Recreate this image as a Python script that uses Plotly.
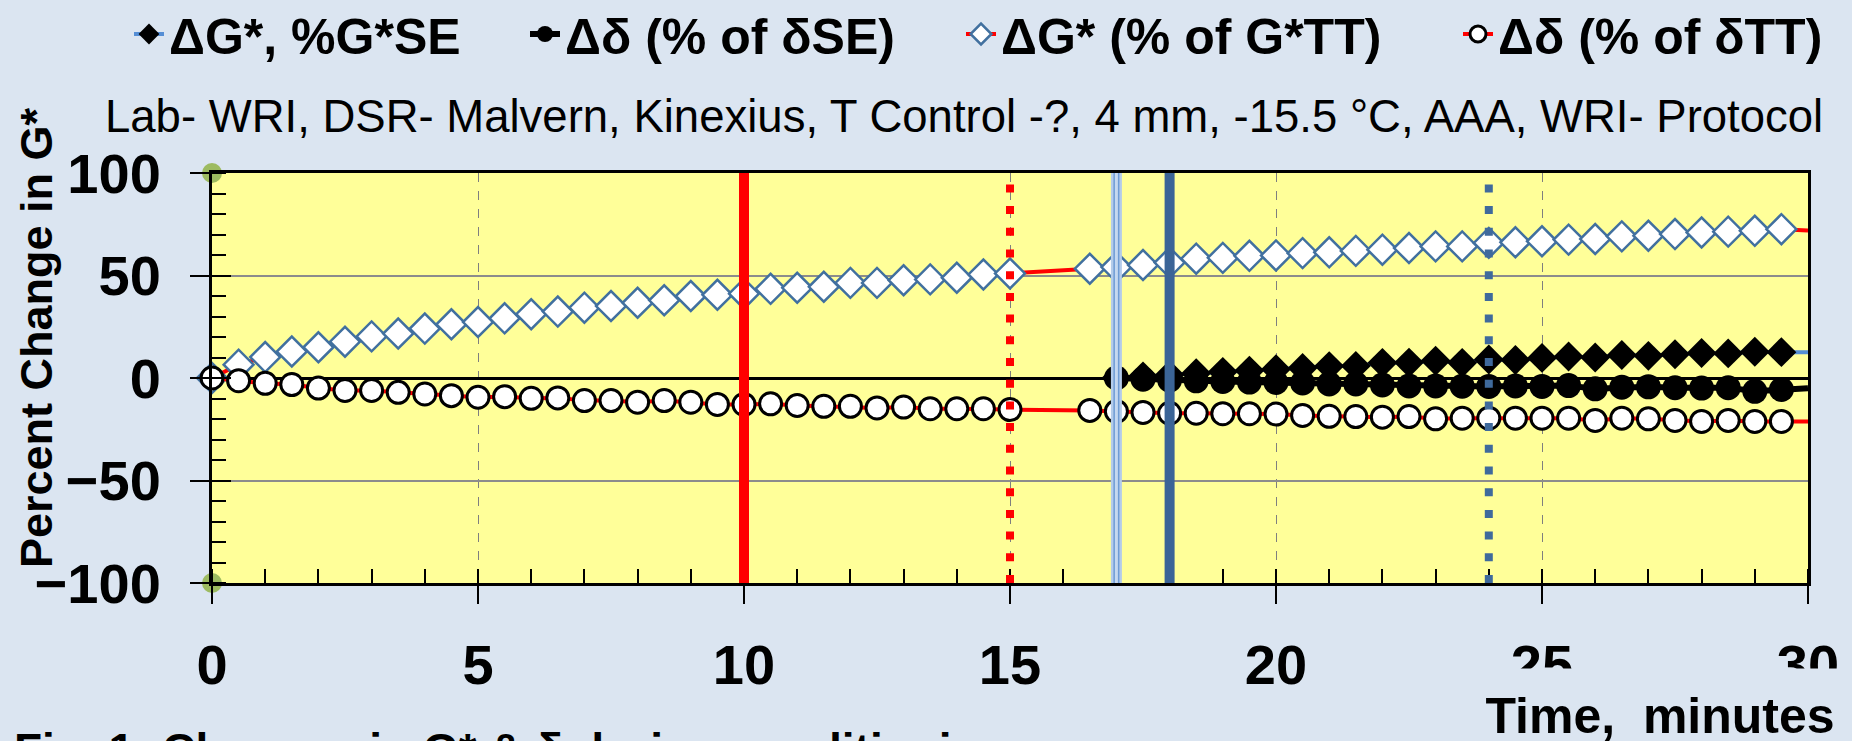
import plotly.graph_objects as go

# ---- data -------------------------------------------------------------
# time (minutes) for the test-temperature (TT) series
t_tt = [0, 0.5, 1, 1.5, 2, 2.5, 3, 3.5, 4, 4.5, 5, 5.5, 6, 6.5, 7, 7.5, 8, 8.5,
        9, 9.5, 10, 10.5, 11, 11.5, 12, 12.5, 13, 13.5, 14, 14.5, 15,
        16.5, 17, 17.5, 18, 18.5, 19, 19.5, 20, 20.5, 21, 21.5, 22, 22.5, 23,
        23.5, 24, 24.5, 25, 25.5, 26, 26.5, 27, 27.5, 28, 28.5, 29, 29.5, 30]
# change in G* as % of G* at test temperature
g_tt = [0, 6.5, 10.2, 12.9, 15.0, 17.7, 20.3, 21.7, 24.1, 26.2, 27.3, 29.1,
        31.1, 32.4, 34.3, 35.1, 36.7, 37.9, 40.0, 40.6, 41.1, 43.5, 44.0, 44.5,
        46.4, 46.4, 47.7, 48.1, 48.9, 50.5, 51.0,
        53.3, 54.1, 55.1, 56.3, 58.2, 58.6, 59.6, 59.8, 60.9, 61.3, 62.0, 62.6,
        63.4, 64.2, 64.2, 65.9, 66.2, 66.7, 67.5, 67.8, 69.1, 69.4, 70.2, 71.0,
        71.4, 71.8, 72.6, 72.0]
# change in phase angle as % of delta at test temperature
d_tt = [0, -1.3, -2.6, -3.2, -4.9, -6.1, -6.1, -7.0, -7.8, -8.6, -9.4, -9.1,
        -9.9, -9.7, -11.0, -11.0, -11.8, -11.0, -11.8, -12.9, -12.9, -12.6,
        -13.4, -13.8, -13.8, -14.6, -14.2, -15.0, -15.0, -15.0, -15.4,
        -15.8, -16.3, -16.8, -17.2, -17.2, -17.4, -17.4, -17.6, -18.3, -18.7,
        -18.8, -19.1, -18.8, -19.9, -19.6, -19.6, -19.6, -19.6, -19.6, -20.7,
        -19.6, -19.9, -20.7, -21.2, -20.7, -21.2, -21.2, -21.2]

# time (minutes) for the series referenced to the start of equilibrium (SE)
t_se = [17, 17.5, 18, 18.5, 19, 19.5, 20, 20.5, 21, 21.5, 22, 22.5, 23, 23.5,
        24, 24.5, 25, 25.5, 26, 26.5, 27, 27.5, 28, 28.5, 29, 29.5, 30]
g_se = [0, 0.8, 1.5, 2.3, 3.0, 3.6, 4.3, 4.9, 5.8, 5.9, 7.4, 7.5, 8.4, 7.4,
        9.0, 8.8, 9.8, 10.5, 10.0, 11.2, 10.8, 11.6, 12.2, 12.0, 12.8, 12.6, 12.5]
d_se = [0, -0.6, -1.0, -1.4, -1.7, -2.0, -2.2, -2.4, -2.9, -2.9, -3.4, -3.9,
        -3.9, -4.0, -4.1, -3.9, -4.1, -3.7, -5.3, -4.5, -4.3, -4.7, -4.9, -4.7,
        -6.5, -5.6, -5.0]

# event times (minutes) drawn as vertical markers
t_red_solid = 10
t_red_dotted = 15
t_lightblue_double = 17
t_blue_solid = 18
t_blue_dotted = 24

# axis-limit markers
limit_x = [0, 0]
limit_y = [100, -100]

names = ["ΔG*, %G*SE", "Δδ (% of δSE)", "ΔG* (% of G*TT)", "Δδ (% of δTT)"]
subtitle = "Lab- WRI, DSR- Malvern, Kinexius, T Control -?, 4 mm, -15.5 °C, AAA, WRI- Protocol"
y_title = "Percent Change in G*"
x_title = "Time,\u00a0 minutes"
caption = "Fig. 1: Changes in G* & δ during conditioning"

# ---- style ------------------------------------------------------------
FONT = "Liberation Sans"
PAPER = "#DBE5F1"
PLOT = "#FFFF99"
W, H = 1852, 741
L, R, T, B = 212, 44, 173, 158


def px_x(px):
    return (px - L) / (W - L - R)


def px_y(py):
    return (H - B - py) / (H - T - B)


def sizes(n, s):
    # last point only extends the line to the axis edge, no marker
    return [s] * (n - 1) + [0]


fig = go.Figure()

fig.add_trace(go.Scatter(
    x=t_tt, y=g_tt, mode="lines+markers", name=names[2], legend="legend3",
    line=dict(color="#FF0000", width=4),
    marker=dict(symbol="diamond", size=sizes(len(t_tt), 23), color="white",
                opacity=1, line=dict(color="#41709F", width=2.5)),
    cliponaxis=False,
))
fig.add_trace(go.Scatter(
    x=t_tt, y=d_tt, mode="lines+markers", name=names[3], legend="legend4",
    line=dict(color="#FF0000", width=4),
    marker=dict(symbol="circle", size=sizes(len(t_tt), 22), color="white",
                opacity=1, line=dict(color="black", width=3)),
    cliponaxis=False,
))
fig.add_trace(go.Scatter(
    x=t_se, y=g_se, mode="lines+markers", name=names[0], legend="legend",
    line=dict(color="#558ED5", width=4),
    marker=dict(symbol="diamond", size=sizes(len(t_se), 23), color="black",
                opacity=1, line=dict(color="black", width=0)),
))
fig.add_trace(go.Scatter(
    x=t_se, y=d_se, mode="lines+markers", name=names[1], legend="legend2",
    line=dict(color="black", width=6),
    marker=dict(symbol="circle", size=sizes(len(t_se), 25), color="black",
                opacity=1, line=dict(color="black", width=0)),
))
fig.add_trace(go.Scatter(
    x=limit_x, y=limit_y, mode="markers", showlegend=False, yaxis="y2",
    marker=dict(size=20, color="#9DBB61", opacity=1), cliponaxis=False,
))


# vertical event lines
def vline(x, color, width, dash="solid"):
    fig.add_shape(type="line", xref="x", yref="y", x0=x, x1=x, y0=-100, y1=100,
                  line=dict(color=color, width=width, dash=dash), layer="above")


vline(t_red_solid, "#FF0000", 10)
vline(t_red_dotted, "#FF0000", 8, "8px,13.7px")
vline(t_lightblue_double, "#B4CCEA", 11)
vline(t_lightblue_double, "#6E9BD4", 6)
vline(t_lightblue_double, "#C5D8F0", 3)
vline(t_blue_solid, "#3B6497", 10)
vline(t_blue_dotted, "#3F6A9C", 8, "8px,13.7px")

tickfont = dict(family=FONT, size=56, color="black", weight="bold")

fig.update_layout(
    width=W, height=H, autosize=False,
    margin=dict(l=L, r=R, t=T, b=B, pad=0, autoexpand=False),
    paper_bgcolor=PAPER, plot_bgcolor=PLOT,
    font=dict(family=FONT, color="black"),
    xaxis=dict(
        range=[0, 30], tick0=0, dtick=5, ticks="outside", ticklen=18,
        tickwidth=2, tickcolor="black", tickfont=tickfont, ticklabelstandoff=13,
        showline=True, linewidth=3, linecolor="black", mirror=True,
        showgrid=True, gridcolor="#7F7F7F", gridwidth=1, griddash="dash",
        zeroline=False,
        minor=dict(ticks="inside", dtick=1, ticklen=14, tickwidth=2,
                   tickcolor="black", showgrid=False),
    ),
    yaxis=dict(
        range=[-100, 100], tick0=0, dtick=50, ticks="outside", ticklen=19,
        tickwidth=2, tickcolor="black", tickfont=tickfont, ticklabelstandoff=18,
        showline=True, linewidth=3, linecolor="black", mirror=True,
        showgrid=True, gridcolor="#8C8C8C", gridwidth=1.5,
        zeroline=True, zerolinecolor="black", zerolinewidth=3,
        minor=dict(ticks="inside", dtick=10, ticklen=14, tickwidth=2,
                   tickcolor="black", showgrid=False),
    ),
    yaxis2=dict(
        overlaying="y", side="left", range=[-100, 100], tick0=0, dtick=50,
        ticks="inside", ticklen=19, tickwidth=2, tickcolor="black",
        showticklabels=False, showgrid=False, zeroline=False, showline=False,
    ),
)

legend_font = dict(family=FONT, size=50, color="black", weight="bold")
text_starts = [168, 564, 1000, 1497]
for key, xs in zip(["legend", "legend2", "legend3", "legend4"], text_starts):
    fig.update_layout({key: dict(
        x=px_x(xs - 39), y=px_y(34), xanchor="left", yanchor="middle",
        orientation="h", bgcolor="rgba(0,0,0,0)", borderwidth=0,
        font=legend_font, itemsizing="trace",
    )})

fig.add_annotation(text=subtitle, xref="paper", yref="paper",
                   x=px_x(964), y=px_y(116), xanchor="center", yanchor="middle",
                   showarrow=False, font=dict(family=FONT, size=45.5, color="black"))
fig.add_annotation(text=y_title, xref="paper", yref="paper", textangle=-90,
                   x=px_x(36), y=px_y(338), xanchor="center", yanchor="middle",
                   showarrow=False,
                   font=dict(family=FONT, size=45, color="black", weight="bold"))
# x-axis title sits in a filled box that overlaps the last tick labels
fig.add_annotation(text=x_title, xref="paper", yref="paper",
                   x=px_x(1660), y=px_y(668), xanchor="center", yanchor="top",
                   width=420, height=94, valign="middle", borderpad=0,
                   showarrow=False, bgcolor=PAPER,
                   font=dict(family=FONT, size=50, color="black", weight="bold"))
fig.add_annotation(text=caption, xref="paper", yref="paper",
                   x=px_x(12), y=px_y(722), xanchor="left", yanchor="top",
                   showarrow=False,
                   font=dict(family=FONT, size=46, color="black", weight="bold"))

fig.write_html("out.html")
